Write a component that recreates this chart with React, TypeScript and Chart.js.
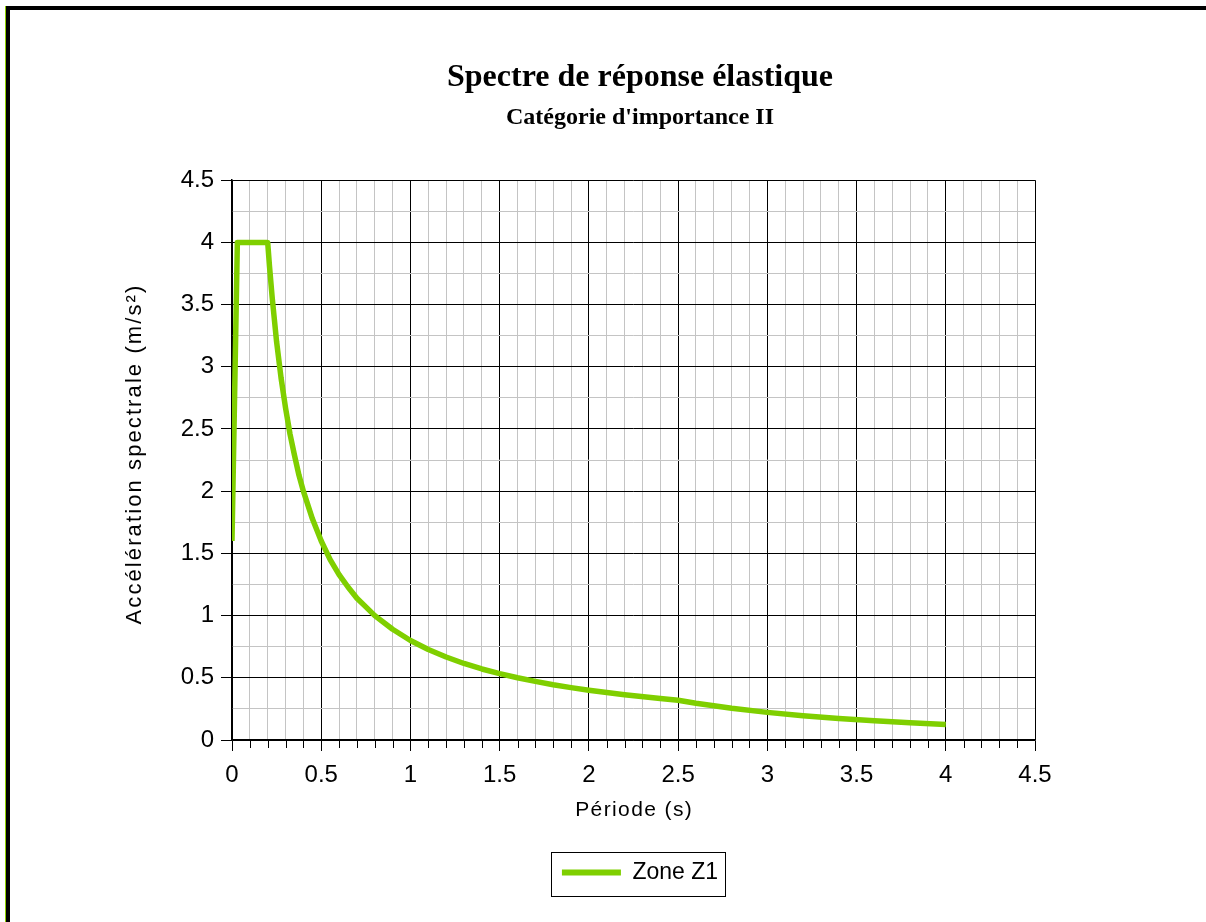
import { useEffect, useRef } from 'react';
import { Chart, registerables } from 'chart.js';

Chart.register(...registerables);

const TITLE = 'Spectre de réponse élastique';
const SUBTITLE = "Catégorie d'importance II";
const X_TITLE = 'Période (s)';
const Y_TITLE = 'Accélération spectrale (m/s²)';
const SERIES_NAME = 'Zone Z1';

const PERIODS = [
  0, 0.03, 0.2, 0.21, 0.225, 0.25, 0.275, 0.3, 0.325, 0.35, 0.375, 0.4, 0.45, 0.5, 0.55,
  0.6, 0.65, 0.7, 0.75, 0.8, 0.9, 1.0, 1.1, 1.2, 1.3, 1.4, 1.5, 1.6, 1.7, 1.8, 1.9, 2.0,
  2.2, 2.4, 2.5, 2.6, 2.8, 3.0, 3.2, 3.4, 3.6, 3.8, 4.0,
];
const ACCEL = [
  1.6, 4.0, 4.0, 3.81, 3.56, 3.2, 2.91, 2.67, 2.46, 2.29, 2.13, 2.0, 1.78, 1.6, 1.45,
  1.33, 1.23, 1.14, 1.07, 1.0, 0.89, 0.8, 0.727, 0.667, 0.615, 0.571, 0.533, 0.5, 0.471,
  0.444, 0.421, 0.4, 0.364, 0.333, 0.32, 0.296, 0.255, 0.222, 0.195, 0.173, 0.154, 0.139,
  0.125,
];

const X_MIN = 0;
const X_MAX = 4.5;
const X_MINOR = 0.1;
const X_MAJOR = 0.5;
const Y_MIN = 0;
const Y_MAX = 4.5;
const Y_MINOR = 0.25;
const Y_MAJOR = 0.5;

const GREEN = 'rgb(127, 207, 0)';
const SANS = "'Liberation Sans', Arial, sans-serif";
const SERIF = "'Liberation Serif', 'Times New Roman', serif";

const isMajor = (v: number, major: number) => Math.abs(v / major - Math.round(v / major)) < 1e-6;
const fmt = (v: number, major: number) => String(Math.round(v / major) * major);

const minorTickPlugin = {
  id: 'minorTicks',
  afterDraw(chart: any) {
    const xs = chart.scales.x;
    const ctx = chart.ctx;
    const bottom = chart.chartArea.bottom;
    ctx.save();
    ctx.strokeStyle = '#000';
    ctx.lineWidth = 1;
    xs.ticks.forEach((t: any) => {
      if (!isMajor(t.value, X_MAJOR)) {
        const px = Math.round(xs.getPixelForValue(t.value)) + 0.5;
        ctx.beginPath();
        ctx.moveTo(px, bottom);
        ctx.lineTo(px, bottom + 8);
        ctx.stroke();
      }
    });
    ctx.restore();
  },
};

const axisTitlePlugin = {
  id: 'axisTitles',
  afterDraw(chart: any) {
    const ctx = chart.ctx;
    const area = chart.chartArea;
    ctx.save();
    ctx.fillStyle = '#000';
    ctx.textAlign = 'center';
    ctx.textBaseline = 'middle';
    // x axis title
    ctx.font = `21px ${SANS}`;
    (ctx as any).letterSpacing = '1.4px';
    ctx.fillText(X_TITLE, (area.left + area.right) / 2 + 0.7, 810);
    // y axis title
    ctx.font = `22px ${SANS}`;
    (ctx as any).letterSpacing = '2.1px';
    ctx.translate(61, 455);
    ctx.rotate(-Math.PI / 2);
    ctx.fillText(Y_TITLE, 1, 0);
    ctx.restore();
    (ctx as any).letterSpacing = '0px';
  },
};

const legendBoxPlugin = {
  id: 'legendBox',
  afterDraw(chart: any) {
    const hb = chart.legend?.legendHitBoxes?.[0];
    if (!hb) return;
    const ctx = chart.ctx;
    const cy = hb.top + hb.height / 2;
    ctx.save();
    ctx.strokeStyle = '#000';
    ctx.lineWidth = 1;
    ctx.strokeRect(Math.round(hb.left - 11) + 0.5, Math.round(cy - 21) + 0.5, Math.round(hb.width + 18), 44);
    ctx.restore();
  },
};

export default function App() {
  const ref = useRef<HTMLCanvasElement | null>(null);

  useEffect(() => {
    if (!ref.current) return;
    Chart.defaults.color = '#000';
    const chart = new Chart(ref.current, {
      type: 'line',
      data: {
        datasets: [
          {
            label: SERIES_NAME,
            data: PERIODS.map((t, i) => ({ x: t, y: ACCEL[i] })),
            borderColor: GREEN,
            backgroundColor: GREEN,
            borderWidth: 5.5,
            borderJoinStyle: 'round',
            borderCapStyle: 'butt',
            pointRadius: 0,
            tension: 0,
            fill: false,
          },
        ],
      },
      options: {
        responsive: false,
        animation: false,
        devicePixelRatio: 1,
        layout: { padding: { top: 0, bottom: 28, left: 0, right: 0 } },
        plugins: {
          tooltip: { enabled: false },
          title: {
            display: true,
            text: TITLE,
            color: '#000',
            font: { family: SERIF, size: 32, weight: 'bold', lineHeight: 1.2 },
            padding: { top: 59, bottom: 0 },
          },
          subtitle: {
            display: true,
            text: SUBTITLE,
            color: '#000',
            font: { family: SERIF, size: 24, weight: 'bold', lineHeight: 1.2 },
            padding: { top: 6, bottom: 48 },
          },
          legend: {
            display: true,
            position: 'bottom',
            labels: {
              boxWidth: 59,
              boxHeight: 6,
              padding: 10,
              color: '#000',
              font: { family: SANS, size: 23 },
              generateLabels: () => [
                {
                  text: SERIES_NAME,
                  fillStyle: GREEN,
                  strokeStyle: GREEN,
                  lineWidth: 0,
                  hidden: false,
                  datasetIndex: 0,
                },
              ],
            },
          },
        },
        scales: {
          x: {
            type: 'linear',
            min: X_MIN,
            max: X_MAX,
            afterFit: (s: any) => {
              s.height = 111;
            },
            ticks: {
              stepSize: X_MINOR,
              autoSkip: false,
              maxRotation: 0,
              padding: 10,
              font: { family: SANS, size: 24 },
              callback: (v: any) => (isMajor(Number(v), X_MAJOR) ? fmt(Number(v), X_MAJOR) : ''),
            },
            grid: {
              color: (c: any) => (isMajor(c.tick.value, X_MAJOR) ? '#000' : '#c4c4c4'),
              tickColor: (c: any) => (isMajor(c.tick.value, X_MAJOR) ? '#000' : 'rgba(0,0,0,0)'),
              tickLength: 11,
              lineWidth: 1,
            },
            border: { display: true, color: '#000', width: 1.5 },
            title: { display: false },
          },
          y: {
            type: 'linear',
            min: Y_MIN,
            max: Y_MAX,
            afterFit: (s: any) => {
              s.width = 158;
            },
            ticks: {
              stepSize: Y_MINOR,
              autoSkip: false,
              padding: 7,
              font: { family: SANS, size: 24 },
              callback: (v: any) => (isMajor(Number(v), Y_MAJOR) ? fmt(Number(v), Y_MAJOR) : ''),
            },
            grid: {
              color: (c: any) => (isMajor(c.tick.value, Y_MAJOR) ? '#000' : '#c4c4c4'),
              tickColor: (c: any) => (isMajor(c.tick.value, Y_MAJOR) ? '#000' : 'rgba(0,0,0,0)'),
              tickLength: 11,
              lineWidth: 1,
            },
            border: { display: true, color: '#000', width: 1.5 },
            title: { display: false },
          },
          y2: {
            type: 'linear',
            position: 'right',
            min: 0,
            max: 1,
            afterFit: (s: any) => {
              s.width = 171;
            },
            ticks: { display: false },
            grid: { display: false, drawTicks: false },
            border: { display: false },
          },
        },
      } as any,
      plugins: [minorTickPlugin, axisTitlePlugin, legendBoxPlugin],
    });
    return () => chart.destroy();
  }, []);

  return (
    <div>
      <div style={{ position: 'fixed', left: 5, top: 6, width: 1, height: 916, background: '#8fd000' }} />
      <div style={{ position: 'fixed', left: 6, top: 6, width: 4, height: 916, background: '#000' }} />
      <div style={{ position: 'fixed', left: 6, top: 6, width: 1200, height: 4, background: '#000' }} />
      <canvas
        ref={ref}
        width={1132}
        height={922}
        style={{ position: 'fixed', left: 74, top: 0, width: 1132, height: 922 }}
      />
    </div>
  );
}
